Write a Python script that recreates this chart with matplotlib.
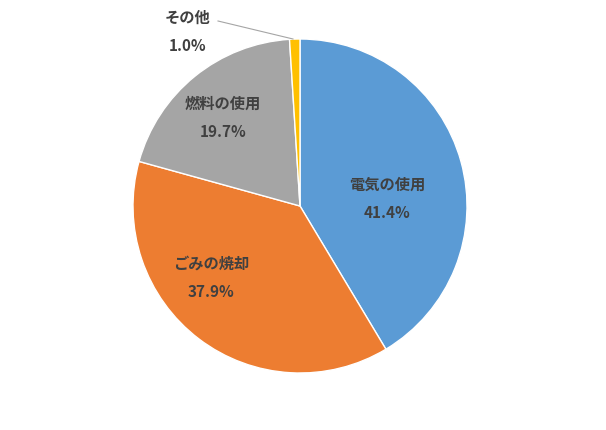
import matplotlib
matplotlib.use("Agg")
import matplotlib.pyplot as plt

plt.rcParams['font.family'] = ['Noto Sans CJK JP', 'DejaVu Sans']

# ====== データ ======
labels = ['電気の使用', 'ごみの焼却', '燃料の使用', 'その他']
values = [41.4, 37.9, 19.7, 1.0]
colors = ['#5B9BD5', '#ED7D31', '#A5A5A5', '#FFC000']

W, H = 606, 431
fig = plt.figure(figsize=(W / 100, H / 100), dpi=100)
ax = fig.add_axes([0, 0, 1, 1])

cx, cy, r = 300, H - 207, 167
ax.pie(values, colors=colors, startangle=90, counterclock=False,
       center=(cx, cy), radius=r,
       wedgeprops=dict(edgecolor='white', linewidth=1))

# ラベル位置（画素座標）
label_pos = [(387, 185), (211, 264), (223, 104), (188, 18)]
txt_color = '#404040'
for name, v, (x, y) in zip(labels, values, label_pos):
    ax.text(x, H - y, name, ha='center', va='center',
            fontsize=11, fontweight='bold', color=txt_color)
    ax.text(x, H - y - 28, f'{v:.1f}%', ha='center', va='center',
            fontsize=11, fontweight='bold', color=txt_color)

# その他の引き出し線
ax.plot([218, 293], [H - 22, H - 40], color='#A5A5A5', lw=0.8)

ax.set_xlim(0, W)
ax.set_ylim(0, H)
ax.set_aspect('equal')
ax.axis('off')

fig.savefig('out.png', dpi=100)
